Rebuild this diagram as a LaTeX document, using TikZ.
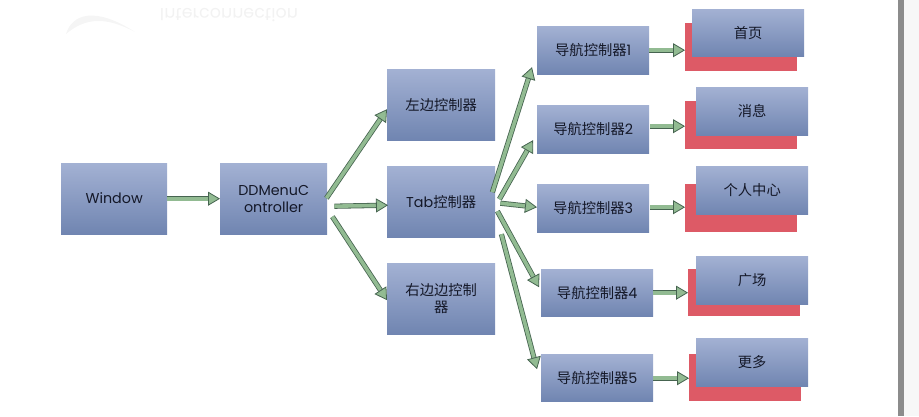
\documentclass[tikz,border=0pt]{standalone}
\usepackage{fontspec}
\setmainfont{Poppins}
\newfontfamily\cjk{Noto Sans CJK SC}
\usetikzlibrary{arrows.meta}
\definecolor{boxtop}{RGB}{163,177,211}
\definecolor{boxbottom}{RGB}{112,133,177}
\definecolor{backred}{RGB}{221,90,102}
\definecolor{arrowfill}{RGB}{146,187,146}
\definecolor{arrowline}{RGB}{70,100,80}
\definecolor{boxtext}{RGB}{20,24,40}
\tikzset{
    box/.style = {draw = none, top color = boxtop, bottom color = boxbottom, text = boxtext, align = center,
                  font = \fontsize{14.3}{17}\selectfont, inner sep = 0pt, anchor = north west},
    backbox/.style = {fill = backred, draw = none, inner sep = 0pt, anchor = north west},
    blockarrow/.style = {draw = arrowline, line width = 0.8pt, double = arrowfill, double distance = 3.6pt,
                  -{Triangle[length = 12pt, width = 14pt, line width = 0.8pt, fill = arrowfill]}}
}
\begin{document}
\begin{tikzpicture}[x = 1pt, y = -1pt]
    \useasboundingbox (0,0) rectangle (919,416);
    % watermark and window edge
    \node[text = black!5, yscale = -1, font = \fontsize{17.5}{18}\selectfont, inner sep = 0pt] (mark) at (229,15) {Interconnection};
    \fill[black!4] (66,34) .. controls (72,14) and (95,6) .. (135,32) .. controls (105,16) and (85,18) .. (66,34);
    \fill[black!45] (898,0) rectangle (904,416);
    \fill[black!3] (904,0) rectangle (919,416);
    % back boxes
    \node[backbox, minimum width = 112pt, minimum height = 48pt] (redhome) at (685,23) {};
    \node[backbox, minimum width = 112pt, minimum height = 48pt] (redmsg) at (685,101) {};
    \node[backbox, minimum width = 112pt, minimum height = 48pt] (redme) at (685,184) {};
    \node[backbox, minimum width = 112pt, minimum height = 47pt] (redsquare) at (688,269) {};
    \node[backbox, minimum width = 112pt, minimum height = 47pt] (redmore) at (689,354) {};
    % first columns
    \node[box, minimum width = 106pt, minimum height = 71pt] (window) at (61,163) {\raisebox{2pt}{Window}};
    \node[box, minimum width = 107pt, minimum height = 71pt] (ddmenu) at (220,163) {DDMenuC\\ontroller};
    \node[box, minimum width = 108pt, minimum height = 71pt] (left) at (387,69) {\cjk 左边控制器};
    \node[box, minimum width = 108pt, minimum height = 71pt] (tab) at (387,166) {Tab{\cjk 控制器}};
    \node[box, minimum width = 108pt, minimum height = 71pt] (right) at (387,263) {\cjk 右边边控制\\\cjk 器};
    % navigation
    \node[box, minimum width = 112pt, minimum height = 48pt] (nava) at (537,26) {{\cjk 导航控制器}1};
    \node[box, minimum width = 112pt, minimum height = 48pt] (navb) at (537,105) {{\cjk 导航控制器}2};
    \node[box, minimum width = 112pt, minimum height = 48pt] (navc) at (537,184) {{\cjk 导航控制器}3};
    \node[box, minimum width = 112pt, minimum height = 47pt] (navd) at (541,269) {{\cjk 导航控制器}4};
    \node[box, minimum width = 112pt, minimum height = 47pt] (nave) at (541,354) {{\cjk 导航控制器}5};
    % pages
    \node[box, minimum width = 112pt, minimum height = 47pt] (home) at (692,9) {\cjk 首页};
    \node[box, minimum width = 112pt, minimum height = 48pt] (msg) at (696,87) {\cjk 消息};
    \node[box, minimum width = 112pt, minimum height = 48pt] (me) at (696,166) {\cjk 个人中心};
    \node[box, minimum width = 112pt, minimum height = 48pt] (square) at (696,256) {\cjk 广场};
    \node[box, minimum width = 112pt, minimum height = 48pt] (more) at (696,338) {\cjk 更多};
    % arrows
    \draw[blockarrow] (window.east) -- (ddmenu.west);
    \draw[blockarrow] ([xshift = -1pt, yshift = 0.5pt]ddmenu.east) -- ([yshift = -4.5pt]left.west);
    \draw[blockarrow] ([xshift = 7pt, yshift = -7.5pt]ddmenu.east) -- ([xshift = 1pt, yshift = -3.5pt]tab.west);
    \draw[blockarrow] ([xshift = 5pt, yshift = -18pt]ddmenu.east) -- ([yshift = -1.5pt]right.west);
    \draw[blockarrow] ([xshift = -3pt, yshift = 9.5pt]tab.east) -- ([xshift = -5pt, yshift = -17pt]nava.west);
    \draw[blockarrow] ([xshift = 4pt, yshift = 2.5pt]tab.east) -- ([xshift = -4pt, yshift = -11pt]navb.west);
    \draw[blockarrow] ([xshift = 5pt, yshift = -1.5pt]tab.east) -- ([yshift = 1pt]navc.west);
    \draw[blockarrow] ([xshift = 2pt, yshift = -9.5pt]tab.east) -- ([xshift = -2pt, yshift = 5.5pt]navd.west);
    \draw[blockarrow] ([xshift = 6pt, yshift = -32.5pt]tab.east) -- ([xshift = -4pt, yshift = 8.5pt]nave.west);
    \draw[blockarrow] (nava.east) -- ([yshift = -3pt]redhome.west);
    \draw[blockarrow] ([xshift = 1pt, yshift = 3pt]navb.east) -- ([yshift = -1pt]redmsg.west);
    \draw[blockarrow] ([xshift = 1pt, yshift = 1pt]navc.east) -- ([yshift = 1pt]redme.west);
    \draw[blockarrow] (navd.east) -- (redsquare.west);
    \draw[blockarrow] ([yshift = -0.5pt]nave.east) -- ([yshift = -0.5pt]redmore.west);
\end{tikzpicture}
\end{document}
